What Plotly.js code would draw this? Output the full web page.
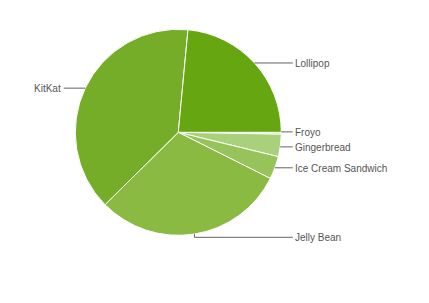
<!DOCTYPE html>
<html>
<head>
<meta charset="utf-8">
<script src="https://cdn.plot.ly/plotly-3.0.1.min.js"></script>
<style>
  html, body { margin: 0; padding: 0; background: #ffffff; }
  #chart { width: 429px; height: 303px; }
</style>
</head>
<body>
<div id="chart"></div>
<script>
// Android platform versions, share of devices (%)
const versions = ['Froyo', 'Gingerbread', 'Ice Cream Sandwich', 'Jelly Bean', 'KitKat', 'Lollipop'];
const shares = [0.3, 3.5, 3.6, 30.2, 38.9, 23.5];
const sliceColors = ['#c3df9b', '#a9d07a', '#97c45a', '#8aba42', '#76ad28', '#66a610'];

const W = 429, H = 303;
const cx = 178.3, cy = 132.3, R = 103;   // pie centre and radius in px

// pie domain derived from centre and radius
const domain = {
  x: [(cx - R) / W, (cx + R) / W],
  y: [(H - cy - R) / H, (H - cy + R) / H]
};

// anchor point on the rim at each slice's middle angle (clockwise from 3 o'clock)
const total = shares.reduce((a, b) => a + b, 0);
let cum = 0;
const anchors = shares.map(v => {
  const mid = (cum + v / 2) / total * 2 * Math.PI;
  cum += v;
  return { x: cx + R * Math.cos(mid), y: cy + R * Math.sin(mid) };
});

// label rows: right side or left side, spread so rows keep a minimum gap
const GAP = 15;
function spread(items) {
  items.sort((a, b) => a.ay - b.ay);
  items.forEach(it => {
    it.ly = it.ay;
    // labels right at the top/bottom of the rim sit just outside it
    if (it.ay > cy + R - 4) it.ly = Math.max(it.ly, cy + R + 2);
    if (it.ay < cy - R + 4) it.ly = Math.min(it.ly, cy - R - 2);
  });
  let moved = true, guard = 0;
  while (moved && guard++ < 50) {
    moved = false;
    for (let i = 1; i < items.length; i++) {
      const d = items[i].ly - items[i - 1].ly;
      if (d < GAP - 0.01) {
        const push = (GAP - d) / 2;
        items[i - 1].ly -= push;
        items[i].ly += push;
        moved = true;
      }
    }
  }
}
const right = [], left = [];
anchors.forEach((a, i) => {
  const it = { i, ax: a.x, ay: a.y };
  (a.x >= cx ? right : left).push(it);
});
spread(right); spread(left);

const px = x => x / W, py = y => 1 - y / H;
const shapes = [], annotations = [];
const lineEnd = R + 11.5, textOff = R + 12;

[...right.map(o => [o, 1]), ...left.map(o => [o, -1])].forEach(([it, side]) => {
  const ly = it.ly;
  const endX = cx + side * lineEnd;
  let path;
  const dy = ly - cy;
  if (Math.abs(dy) < R - 0.5 && Math.abs(ly - it.ay) < 4) {
    const sx = cx + side * Math.sqrt(R * R - dy * dy);
    path = `M${px(sx)},${py(ly)} L${px(endX)},${py(ly)}`;
  } else {
    path = `M${px(it.ax)},${py(it.ay)} L${px(it.ax)},${py(ly)} L${px(endX)},${py(ly)}`;
  }
  shapes.push({
    type: 'path', xref: 'paper', yref: 'paper', path,
    line: { color: '#636363', width: 1 }
  });
  annotations.push({
    xref: 'paper', yref: 'paper',
    x: px(cx + side * textOff), y: py(ly + 0.5),
    xanchor: side > 0 ? 'left' : 'right', yanchor: 'middle',
    text: versions[it.i], showarrow: false,
    font: { family: 'Liberation Sans, Arial, sans-serif', size: 10, color: '#555555' }
  });
});

const trace = {
  type: 'pie',
  labels: versions,
  values: shares,
  sort: false,
  direction: 'clockwise',
  rotation: 90,
  domain,
  marker: { colors: sliceColors, line: { color: '#ffffff', width: 1 } },
  textinfo: 'none',
  hoverinfo: 'label+percent',
  showlegend: false
};

const layout = {
  width: W, height: H,
  margin: { l: 0, r: 0, t: 0, b: 0 },
  paper_bgcolor: '#ffffff',
  showlegend: false,
  shapes, annotations
};

Plotly.newPlot('chart', [trace], layout, { displayModeBar: false, staticPlot: true });
</script>
</body>
</html>
